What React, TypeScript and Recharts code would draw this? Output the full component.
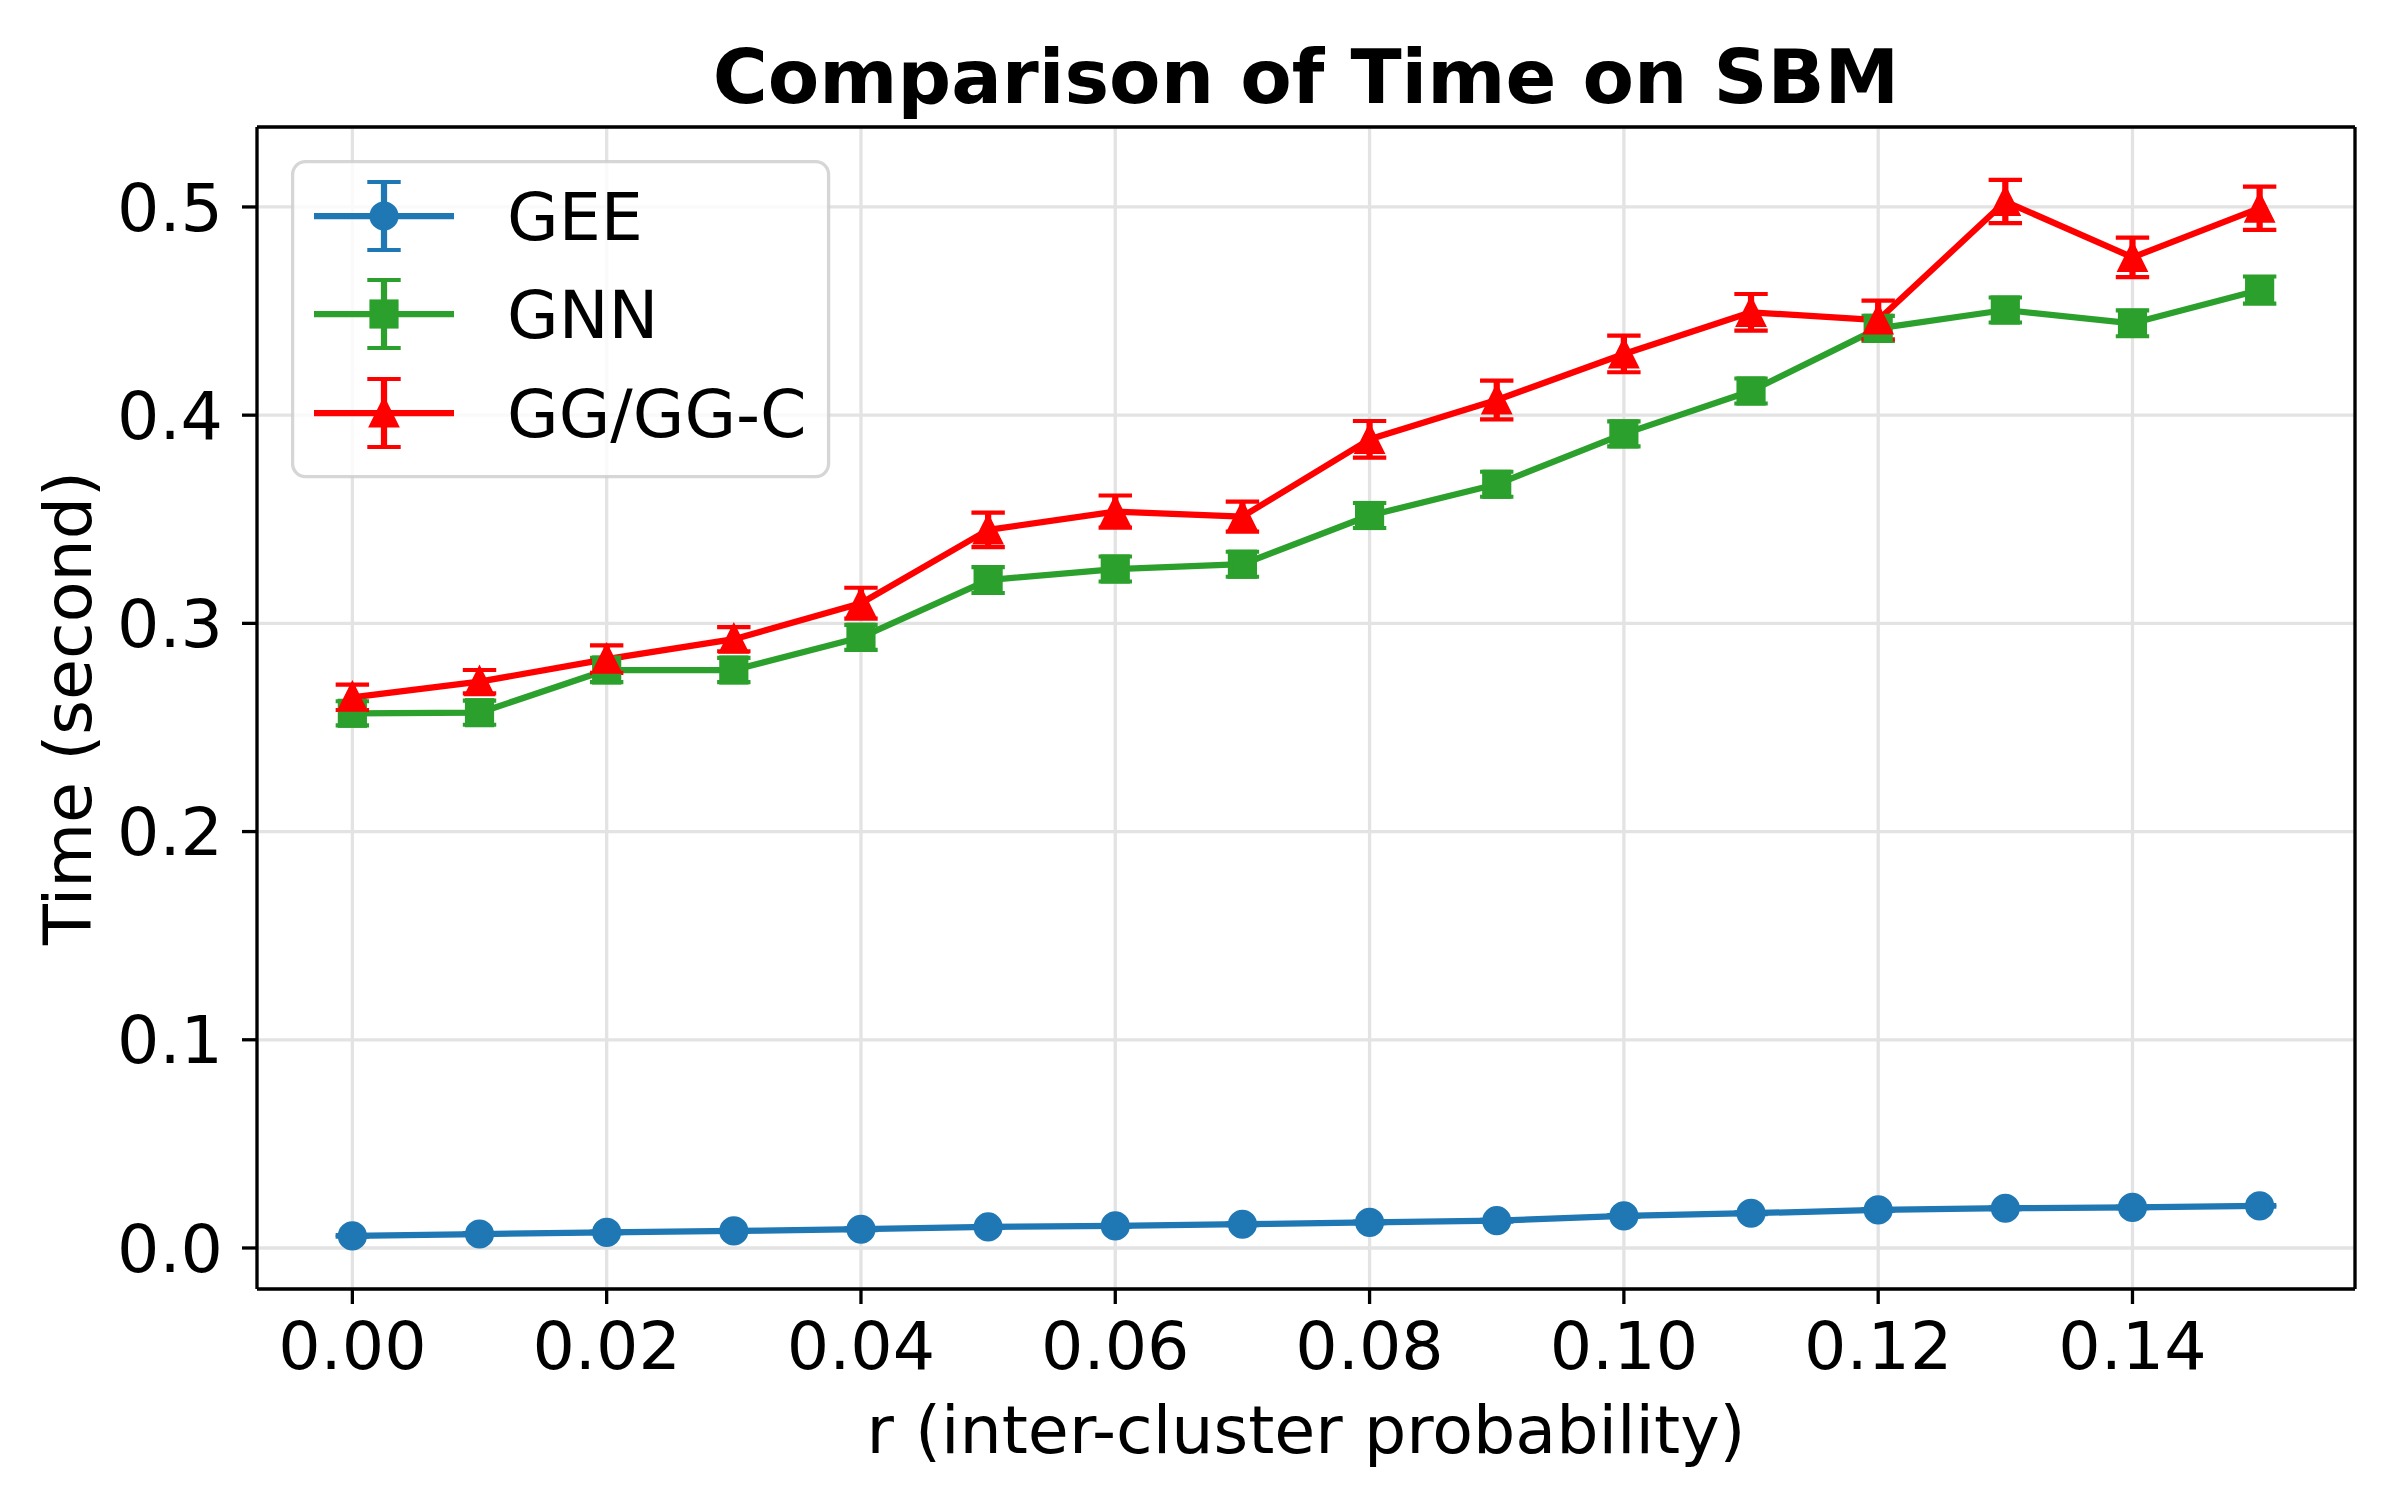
import React from 'react';
import {
  LineChart,
  Line,
  XAxis,
  YAxis,
  CartesianGrid,
  ErrorBar,
  Legend,
  ReferenceLine,
} from 'recharts';

// ---------- data ----------
const rValues = [0, 0.01, 0.02, 0.03, 0.04, 0.05, 0.06, 0.07, 0.08, 0.09, 0.1, 0.11, 0.12, 0.13, 0.14, 0.15];

const geeTime = [0.0058, 0.0067, 0.0075, 0.0082, 0.009, 0.0101, 0.0106, 0.0114, 0.0123, 0.0131, 0.0154, 0.0167, 0.0183, 0.0191, 0.0195, 0.0202];
const geeErr = [0.0004, 0.0004, 0.0004, 0.0004, 0.0004, 0.0004, 0.0004, 0.0004, 0.0004, 0.0004, 0.0004, 0.0004, 0.0004, 0.0004, 0.0004, 0.0004];

const gnnTime = [0.2568, 0.2571, 0.2776, 0.2776, 0.2933, 0.3208, 0.3261, 0.3284, 0.3518, 0.3668, 0.391, 0.4116, 0.4417, 0.4505, 0.4441, 0.4601];
const gnnErr = [0.0058, 0.0058, 0.0058, 0.0058, 0.006, 0.0062, 0.006, 0.006, 0.006, 0.006, 0.006, 0.006, 0.006, 0.006, 0.0062, 0.0065];

const ggTime = [0.2645, 0.272, 0.2828, 0.2924, 0.3097, 0.3449, 0.3537, 0.3513, 0.3884, 0.4073, 0.4294, 0.4494, 0.4457, 0.5026, 0.4758, 0.4994];
const ggErr = [0.0061, 0.0056, 0.0066, 0.0058, 0.0074, 0.0083, 0.0077, 0.0072, 0.0088, 0.0093, 0.0088, 0.0088, 0.0093, 0.0104, 0.0095, 0.0104];

const xTicks = [0, 0.02, 0.04, 0.06, 0.08, 0.1, 0.12, 0.14];
const yTicks = [0, 0.1, 0.2, 0.3, 0.4, 0.5];

const seriesNames = ['GEE', 'GNN', 'GG/GG-C'];
const seriesColors = ['#1f77b4', '#2ca02c', '#ff0000'];
const seriesShapes = ['circle', 'square', 'triangle'];

const titleText = 'Comparison of Time on SBM';
const xLabelText = 'r (inter-cluster probability)';
const yLabelText = 'Time (second)';

const data = rValues.map((r, i) => ({
  r,
  gee: geeTime[i],
  geeErr: geeErr[i],
  gnn: gnnTime[i],
  gnnErr: gnnErr[i],
  gg: ggTime[i],
  ggErr: ggErr[i],
}));

// ---------- styling ----------
const FONT = 'DejaVu Sans';
const W = 2400;
const H = 1500;
const LW = 6.25;
const EDGE = 4.17;
const MS = 12.5; // half marker size
const CAP = 16.7;

function Marker({ shape, cx, cy, color }: { shape: string; cx: number; cy: number; color: string }) {
  if (shape === 'circle') {
    return <circle cx={cx} cy={cy} r={MS} fill={color} stroke={color} strokeWidth={EDGE} />;
  }
  if (shape === 'square') {
    return (
      <rect x={cx - MS} y={cy - MS} width={2 * MS} height={2 * MS} fill={color} stroke={color} strokeWidth={EDGE} strokeLinejoin="miter" />
    );
  }
  const pts = `${cx},${cy - MS} ${cx - MS},${cy + MS} ${cx + MS},${cy + MS}`;
  return <polygon points={pts} fill={color} stroke={color} strokeWidth={EDGE} strokeLinejoin="miter" />;
}

const makeDot = (shape: string, color: string) => (props: any) => {
  const { cx, cy, index } = props;
  if (cx == null || cy == null) return <g key={`d-${shape}-${index}`} />;
  return (
    <g key={`d-${shape}-${index}`}>
      <Marker shape={shape} cx={cx} cy={cy} color={color} />
    </g>
  );
};

const renderLegend = (props: any) => {
  const payload = (props && props.payload) || [];
  const rows = seriesNames.map((name, i) => {
    const p = payload.find((q: any) => q.value === name);
    return { name: p ? p.value : name, color: p && p.color ? p.color : seriesColors[i], shape: seriesShapes[i] };
  });
  const rowY = [56, 154, 253];
  return (
    <svg width={540} height={320} style={{ display: 'block' }}>
      <rect x={1.6} y={1.6} width={536} height={315} rx={13} ry={13} fill="#ffffff" fillOpacity={0.8} stroke="#cccccc" strokeOpacity={0.8} strokeWidth={3.3} />
      {rows.map((row, i) => {
        const cy = rowY[i];
        const cx = 93;
        return (
          <g key={row.name}>
            <line x1={23} x2={163} y1={cy} y2={cy} stroke={row.color} strokeWidth={LW} />
            <line x1={cx} x2={cx} y1={cy - 34} y2={cy + 34} stroke={row.color} strokeWidth={LW} />
            <line x1={cx - CAP} x2={cx + CAP} y1={cy - 34} y2={cy - 34} stroke={row.color} strokeWidth={EDGE} />
            <line x1={cx - CAP} x2={cx + CAP} y1={cy + 34} y2={cy + 34} stroke={row.color} strokeWidth={EDGE} />
            <Marker shape={row.shape} cx={cx} cy={cy} color={row.color} />
            <text x={216} y={cy + 24} fontFamily={FONT} fontSize={66.67} fill="#000">
              {row.name}
            </text>
          </g>
        );
      })}
    </svg>
  );
};

const axisLine = { stroke: '#000', strokeWidth: 3.3 };
const tickLine = { stroke: '#000', strokeWidth: 3.3 };
const tickStyle = { fill: '#000', fontSize: 66.67, fontFamily: FONT };
const xDomain: [number, number] = [-0.0075, 0.1575];
const yDomain: [number, number] = [-0.0197, 0.5384];

export default function App() {
  return (
    <div style={{ position: 'absolute', left: 0, top: 0, width: W, height: H, background: '#fff', fontFamily: FONT }}>
      <LineChart
        width={W}
        height={H}
        data={data}
        margin={{ top: 127, right: 45, bottom: 111, left: 157 }}
        style={{ fontFamily: FONT }}
      >
        <CartesianGrid stroke="#e3e3e3" strokeWidth={3.3} />
        <XAxis
          dataKey="r"
          type="number"
          domain={xDomain}
          ticks={xTicks}
          interval={0}
          allowDataOverflow
          height={100}
          tickSize={15}
          tickMargin={18}
          axisLine={axisLine}
          tickLine={tickLine}
          tick={tickStyle}
          tickFormatter={(v: number) => v.toFixed(2)}
        />
        <YAxis
          type="number"
          domain={yDomain}
          ticks={yTicks}
          interval={0}
          allowDataOverflow
          width={100}
          tickSize={15}
          tickMargin={19}
          axisLine={axisLine}
          tickLine={tickLine}
          tick={tickStyle}
          tickFormatter={(v: number) => v.toFixed(1)}
        />
        <ReferenceLine y={yDomain[1]} stroke="#000" strokeWidth={3.3} ifOverflow="visible" />
        <ReferenceLine x={xDomain[1]} stroke="#000" strokeWidth={3.3} ifOverflow="visible" />
        <Legend
          layout="vertical"
          align="center"
          verticalAlign="middle"
          wrapperStyle={{ left: 291, top: 160, width: 540, height: 320 }}
          content={renderLegend}
        />
        <Line
          name={seriesNames[0]}
          dataKey="gee"
          stroke={seriesColors[0]}
          strokeWidth={LW}
          strokeLinejoin="round"
          dot={makeDot(seriesShapes[0], seriesColors[0])}
          activeDot={false}
          isAnimationActive={false}
        >
          <ErrorBar dataKey="geeErr" width={0} strokeWidth={LW} stroke={seriesColors[0]} direction="y" isAnimationActive={false} />
          <ErrorBar dataKey="geeErr" width={CAP} strokeWidth={EDGE} stroke={seriesColors[0]} direction="y" isAnimationActive={false} />
        </Line>
        <Line
          name={seriesNames[1]}
          dataKey="gnn"
          stroke={seriesColors[1]}
          strokeWidth={LW}
          strokeLinejoin="round"
          dot={makeDot(seriesShapes[1], seriesColors[1])}
          activeDot={false}
          isAnimationActive={false}
        >
          <ErrorBar dataKey="gnnErr" width={0} strokeWidth={LW} stroke={seriesColors[1]} direction="y" isAnimationActive={false} />
          <ErrorBar dataKey="gnnErr" width={CAP} strokeWidth={EDGE} stroke={seriesColors[1]} direction="y" isAnimationActive={false} />
        </Line>
        <Line
          name={seriesNames[2]}
          dataKey="gg"
          stroke={seriesColors[2]}
          strokeWidth={LW}
          strokeLinejoin="round"
          dot={makeDot(seriesShapes[2], seriesColors[2])}
          activeDot={false}
          isAnimationActive={false}
        >
          <ErrorBar dataKey="ggErr" width={0} strokeWidth={LW} stroke={seriesColors[2]} direction="y" isAnimationActive={false} />
          <ErrorBar dataKey="ggErr" width={CAP} strokeWidth={EDGE} stroke={seriesColors[2]} direction="y" isAnimationActive={false} />
        </Line>
      </LineChart>
      <svg width={W} height={H} style={{ position: 'absolute', left: 0, top: 0, pointerEvents: 'none' }}>
        <text x={1306} y={103} textAnchor="middle" fontFamily={FONT} fontWeight="bold" fontSize={75} fill="#000">
          {titleText}
        </text>
        <text x={1306} y={1453} textAnchor="middle" fontFamily={FONT} fontSize={66.67} fill="#000">
          {xLabelText}
        </text>
        <text x={91} y={708} transform="rotate(-90 91 708)" textAnchor="middle" fontFamily={FONT} fontSize={66.67} fill="#000">
          {yLabelText}
        </text>
      </svg>
    </div>
  );
}
